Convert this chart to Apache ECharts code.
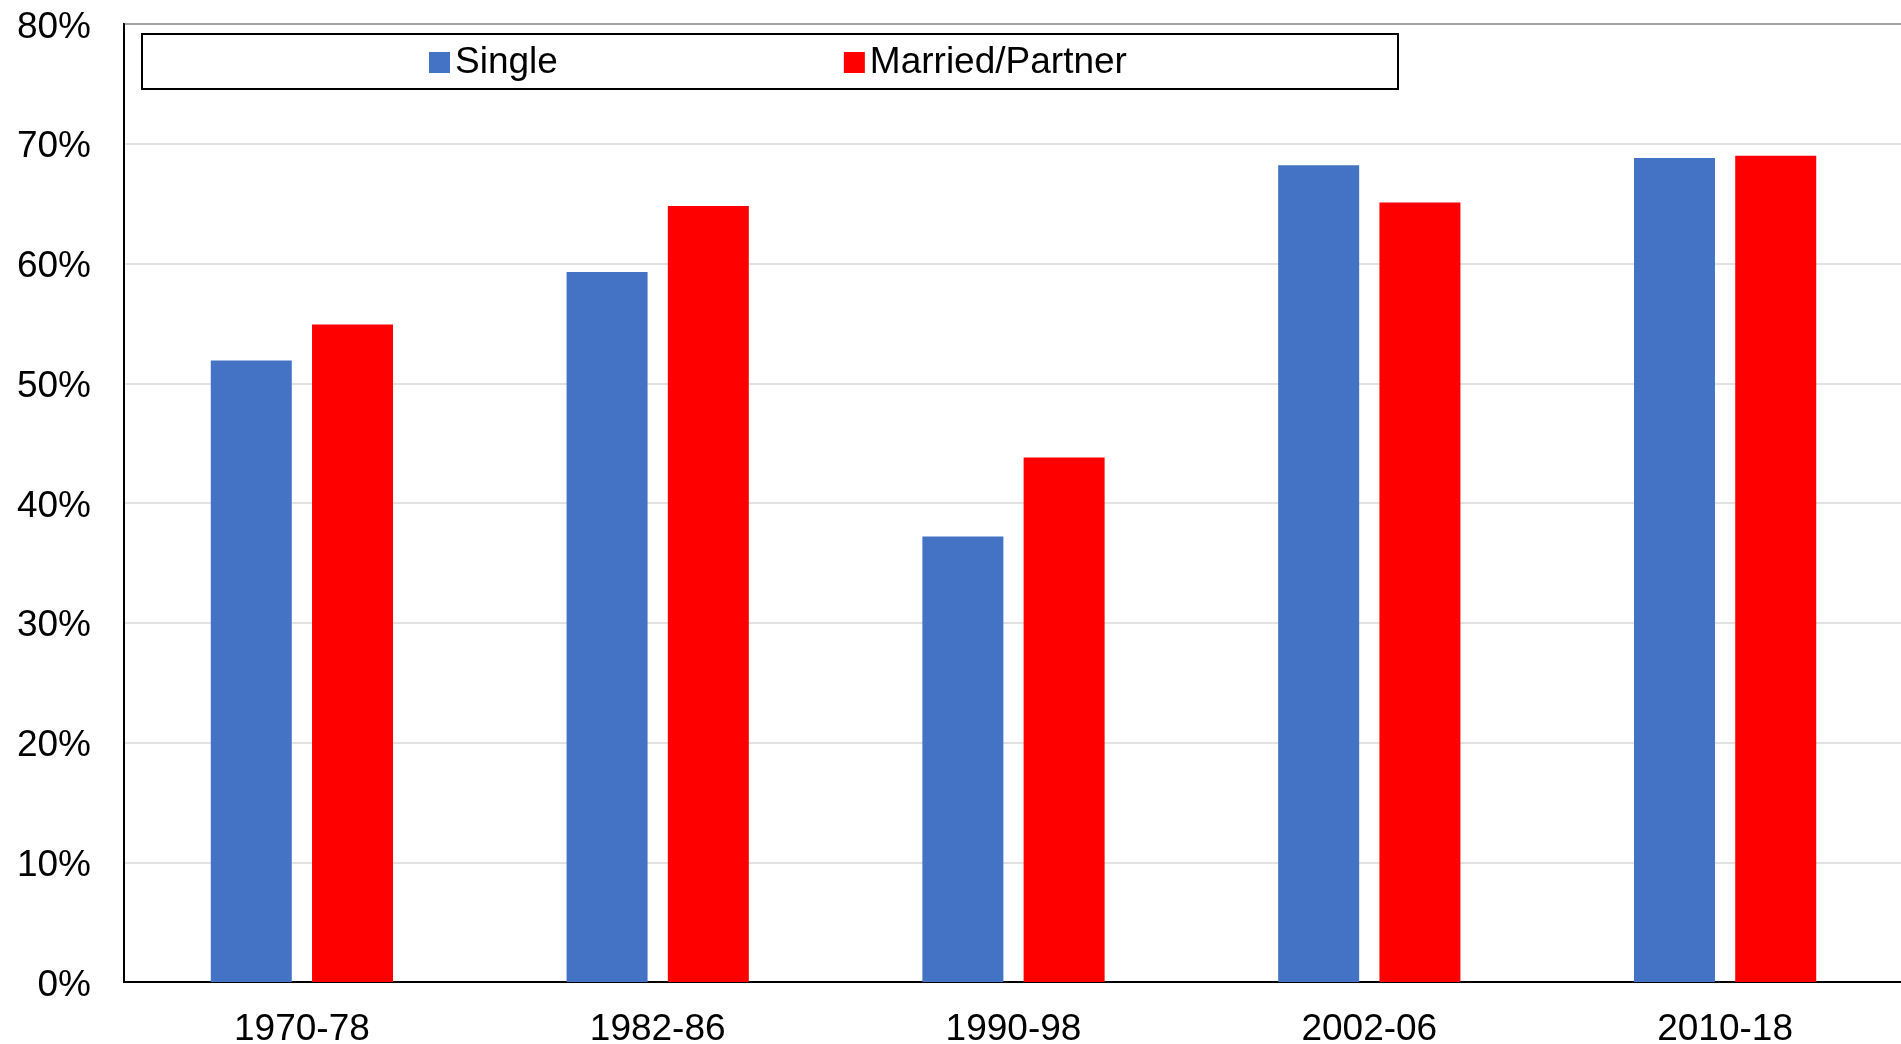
<!DOCTYPE html>
<html>
<head>
<meta charset="utf-8">
<script src="https://cdn.jsdelivr.net/npm/echarts@6/dist/echarts.min.js"></script>
<style>
html,body{margin:0;padding:0;background:#fff;}
#chart{width:1901px;height:1044px;}
</style>
</head>
<body>
<div id="chart"></div>
<script>
const categories = ['1970-78', '1982-86', '1990-98', '2002-06', '2010-18'];
const singleValues = [51.9, 59.3, 37.2, 68.2, 68.8];
const marriedValues = [54.9, 64.8, 43.8, 65.1, 69.0];
const seriesNames = ['Single', 'Married/Partner'];
const yMin = 0, yMax = 80, yInterval = 10;

const FONT = '"Liberation Sans", Arial, sans-serif';
const chart = echarts.init(document.getElementById('chart'), null, {renderer: 'canvas'});
chart.setOption({
  animation: false,
  backgroundColor: '#ffffff',
  textStyle: {fontFamily: FONT},
  grid: {
    left: 124, right: -2, top: 24, bottom: 62,
    containLabel: false,
    outerBoundsMode: 'none',
    show: true, borderColor: '#000', borderWidth: 2
  },
  legend: {
    left: 424, top: 39,
    itemWidth: 21, itemHeight: 21, itemGap: 286,
    icon: 'rect',
    textStyle: {fontSize: 37, color: '#000', fontFamily: FONT},
    data: seriesNames
  },
  graphic: [{
    type: 'rect', left: 141, top: 33, z: 0,
    shape: {width: 1256, height: 55},
    style: {fill: 'rgba(0,0,0,0)', stroke: '#000', lineWidth: 2}
  }],
  xAxis: {
    type: 'category',
    data: categories,
    axisLine: {show: true, lineStyle: {color: '#000', width: 2}},
    axisTick: {show: false},
    axisLabel: {fontSize: 37, color: '#000', margin: 29, fontFamily: FONT}
  },
  yAxis: {
    type: 'value',
    min: yMin, max: yMax, interval: yInterval,
    axisLine: {show: true, lineStyle: {color: '#000', width: 2}},
    axisTick: {show: false},
    splitLine: {lineStyle: {color: '#d9d9d9', width: 1.5}},
    axisLabel: {
      color: '#000', margin: 33, fontFamily: FONT, fontSize: 37,
      formatter: function (v) { return '{v|' + v + '%}'; },
      rich: {v: {fontSize: 37, color: '#000', fontFamily: FONT, padding: [7, 0, 0, 0]}}
    }
  },
  series: [
    {name: seriesNames[0], type: 'bar', data: singleValues, barWidth: 81, barGap: '25%',
     itemStyle: {color: '#4472C4'}},
    {name: seriesNames[1], type: 'bar', data: marriedValues, barWidth: 81, barGap: '25%',
     itemStyle: {color: '#FF0000'}}
  ]
});
</script>
</body>
</html>
